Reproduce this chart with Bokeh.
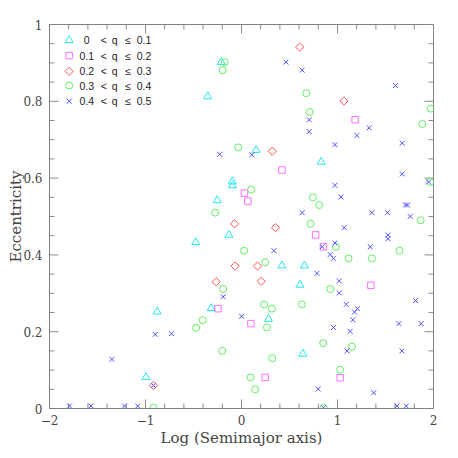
from bokeh.plotting import figure
from bokeh.models import FixedTicker, CustomJSTickFormatter, Range1d
from bokeh.core.properties import value
from bokeh.embed import file_html
from bokeh.resources import INLINE
import numpy as np

# ---- data: log(semimajor axis), eccentricity per mass-ratio bin ----
q1_loga = [-0.211, -0.352, 0.153, -0.097, -0.094, -0.253, -0.131, -0.477, 0.421, 0.656,
           0.608, -0.316, -0.878, 0.281, 0.640, 0.830, -0.996]
q1_ecc = [0.902, 0.8125, 0.673, 0.591, 0.581, 0.542, 0.452, 0.433, 0.372, 0.372,
          0.322, 0.261, 0.252, 0.233, 0.142, 0.642, 0.0815]

q2_loga = [0.421, 0.031, 0.067, -0.245, 0.098, 0.247, 1.184, 0.772, 0.854, 1.348, 1.028]
q2_ecc = [0.621, 0.561, 0.540, 0.260, 0.221, 0.081, 0.752, 0.452, 0.421, 0.321, 0.080]

q3_loga = [0.606, 0.320, -0.073, 0.354, -0.066, 0.167, -0.264, 0.205, -0.917, 1.067]
q3_ecc = [0.941, 0.670, 0.481, 0.471, 0.371, 0.371, 0.330, 0.331, 0.060, 0.801]

q4_loga = [-0.175, -0.196, 0.674, 0.710, -0.034, 0.101, -0.274, 0.719, 0.028, 0.247,
           -0.191, 0.236, 0.317, 0.629, -0.404, -0.472, 0.265, -0.201, 0.320, 0.094,
           0.143, -0.916, 1.971, 1.882, 1.966, 0.744, 0.809, 1.866, 0.983, 1.646,
           1.115, 1.358, 0.924, 0.851, 1.150, 1.028, 0.854]
q4_ecc = [0.902, 0.881, 0.821, 0.772, 0.680, 0.570, 0.510, 0.481, 0.411, 0.381,
          0.311, 0.271, 0.260, 0.271, 0.230, 0.210, 0.211, 0.150, 0.131, 0.081,
          0.050, 0.002, 0.781, 0.741, 0.590, 0.550, 0.530, 0.490, 0.421, 0.411,
          0.391, 0.391, 0.311, 0.170, 0.161, 0.101, 0.002]

q5_loga = [0.4625, 0.632, 0.705, 0.705, -0.227, 0.108, 0.632, 0.3375, -0.191, 0.002,
           -0.729, -0.899, -1.35, -0.917, -1.792, -1.569, -1.219, -1.081, 1.604, 1.330,
           1.202, 0.973, 1.674, 1.674, 0.973, 1.95, 1.035, 1.708, 1.729, 1.358,
           1.521, 1.757, 1.070, 1.525, 1.525, 0.973, 0.841, 1.341, 0.924, 0.958,
           0.785, 1.018, 1.018, 1.8125, 1.091, 1.208, 1.177, 1.160, 1.640, 1.872,
           0.958, 1.132, 1.098, 1.671, 0.799, 1.377, 0.854, 1.619, 1.716]
q5_ecc = [0.902, 0.881, 0.752, 0.721, 0.662, 0.661, 0.510, 0.411, 0.291, 0.240,
          0.195, 0.193, 0.128, 0.060, 0.0065, 0.0065, 0.0065, 0.0065, 0.841, 0.731,
          0.711, 0.687, 0.691, 0.611, 0.581, 0.590, 0.551, 0.530, 0.530, 0.510,
          0.510, 0.500, 0.471, 0.452, 0.442, 0.431, 0.421, 0.421, 0.401, 0.391,
          0.352, 0.332, 0.301, 0.281, 0.271, 0.260, 0.251, 0.231, 0.221, 0.221,
          0.211, 0.201, 0.150, 0.150, 0.051, 0.041, 0.002, 0.0065, 0.0065]

legend_lo = ["0", "0.1", "0.2", "0.3", "0.4"]
legend_hi = ["0.1", "0.2", "0.3", "0.4", "0.5"]

x_major = [-2, -1, 0, 1, 2]
x_minor = [float(round(v, 2)) for v in np.arange(-2, 2.001, 0.2) if abs(v - round(v)) > 1e-6]
y_major = [0, 0.2, 0.4, 0.6, 0.8, 1]
y_minor = [float(round(v, 2)) for v in np.arange(0, 1.001, 0.05)
           if abs(v * 5 - round(v * 5)) > 1e-6]

COL = ["#22e8f0", "#ff70ff", "#ff5555", "#60f060", "#5050ff"]
TXT = "#444444"
AX = "#808080"
TK = "#8a8a8a"
SERIF = "DejaVu Serif"
X0, X1, Y0, Y1 = -2, 2, 0, 1
FR = 384.0

p = figure(frame_width=384, frame_height=384, output_backend="svg", toolbar_location=None,
           x_range=Range1d(X0, X1), y_range=Range1d(Y0, Y1),
           min_border_left=49, min_border_right=9, min_border_top=24, min_border_bottom=40)
p.grid.visible = False
p.outline_line_color = AX
p.outline_line_width = 1
p.background_fill_color = "white"
p.border_fill_color = "white"

fmt = CustomJSTickFormatter(code="var v = Math.round(tick*100)/100; var s = String(v); return s.replace('-', '\u2212');")

def style(ax, ticks):
    ax.ticker = FixedTicker(ticks=ticks, minor_ticks=[])
    ax.axis_line_color = AX
    ax.major_tick_in = 0
    ax.major_tick_out = 0
    ax.minor_tick_in = 0
    ax.minor_tick_out = 0
    ax.formatter = fmt
    ax.major_label_text_font = SERIF
    ax.major_label_text_font_size = "12px"
    ax.major_label_text_color = TXT
    ax.axis_label_text_font = SERIF
    ax.axis_label_text_font_size = "15px"
    ax.axis_label_text_font_style = "normal"
    ax.axis_label_text_color = TXT

xa = p.xaxis[0]
ya = p.yaxis[0]
style(xa, x_major)
style(ya, y_major)
xa.axis_label = "Log (Semimajor axis)"
ya.axis_label = "Eccentricity"
xa.major_label_standoff = 6
xa.axis_label_standoff = 1
ya.major_label_standoff = 7
ya.axis_label_standoff = -5

# inward ticks on all four sides, drawn as dash markers whose centre sits half a tick inside
def ticks_x(vals, length_px):
    h = length_px / 2.0 / FR * (Y1 - Y0)
    n = len(vals)
    for yy in (Y0 + h, Y1 - h):
        p.scatter(x=vals, y=[yy] * n, marker="dash", size=length_px, angle=np.pi / 2,
                  line_color=TK, line_width=1)
def ticks_y(vals, length_px):
    h = length_px / 2.0 / FR * (X1 - X0)
    n = len(vals)
    for xx in (X0 + h, X1 - h):
        p.scatter(x=[xx] * n, y=vals, marker="dash", size=length_px, angle=0,
                  line_color=TK, line_width=1)
ticks_x(x_major, 9)
ticks_x(x_minor, 5)
ticks_y(y_major, 9)
ticks_y(y_minor, 5)

series = [(q1_loga, q1_ecc, "triangle", 8, 0),
          (q2_loga, q2_ecc, "square", 6.5, 0),
          (q3_loga, q3_ecc, "square", 5.8, np.pi / 4),
          (q4_loga, q4_ecc, "circle", 7, 0),
          (q5_loga, q5_ecc, "x", 7, 0)]

for i, (xs, ys, mk, sz, ang) in enumerate(series):
    p.scatter(xs, ys, marker=mk, size=sz, angle=ang, fill_color=None,
              line_color=COL[i], line_width=1)

# legend (drawn inside the frame, upper left)
leg_y = [0.959, 0.919, 0.878, 0.841, 0.800]
for i, (xs, ys, mk, sz, ang) in enumerate(series):
    p.scatter([-1.795], [leg_y[i]], marker=mk, size=sz, angle=ang, fill_color=None,
              line_color=COL[i], line_width=1)
LF = value("Liberation Sans")
common = dict(text_font=LF, text_font_size="10.5px", text_color="#222222", text_baseline="middle")
p.text(x=[-1.612] * 5, y=leg_y, text=legend_lo, text_align="center", **common)
p.text(x=[-1.435] * 5, y=leg_y, text=["<"] * 5, text_align="center", **common)
p.text(x=[-1.321] * 5, y=leg_y, text=["q"] * 5, text_align="center", **common)
p.text(x=[-1.180] * 5, y=leg_y, text=["\u2264"] * 5, text_align="center", **common)
p.text(x=[-1.092] * 5, y=leg_y, text=legend_hi, text_align="left", **common)

open("out.html", "w").write(file_html(p, INLINE))
